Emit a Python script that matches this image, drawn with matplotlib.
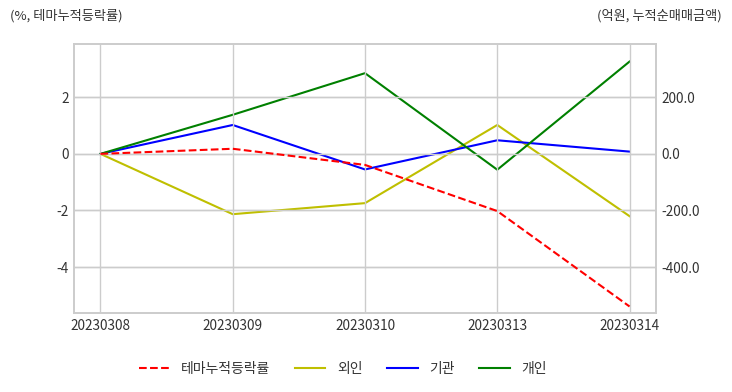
import matplotlib
matplotlib.use("Agg")
import matplotlib.pyplot as plt

plt.rcParams['font.family'] = ['Noto Sans CJK KR', 'DejaVu Sans']

dates = ["20230308", "20230309", "20230310", "20230313", "20230314"]
theme_ret = [0.0, 0.18, -0.39, -2.02, -5.39]
foreign = [0.0, -213, -174, 102, -220]
institution = [0.0, 102, -55, 48, 8]
individual = [0.0, 138, 285, -56, 326]

fig = plt.figure(figsize=(7.32, 3.92), dpi=100)
ax = fig.add_axes([74/732, 1-313/392, (656-74)/732, (313-44)/392])
ax2 = ax.twinx()

x = list(range(len(dates)))
l1, = ax.plot(x, theme_ret, color='r', linestyle='--', linewidth=1.5, label='테마누적등락률', zorder=3)
l2, = ax2.plot(x, foreign, color='y', linewidth=1.5, label='외인')
l3, = ax2.plot(x, institution, color='b', linewidth=1.5, label='기관')
l4, = ax2.plot(x, individual, color='g', linewidth=1.5, label='개인')

ax.set_zorder(ax2.get_zorder() + 1)
ax.patch.set_visible(False)

ax.set_xlim(-0.2, 4.2)
ax.set_ylim(-5.62, 3.88)
ax2.set_ylim(-562, 388)
ax.set_yticks([2, 0, -2, -4])
ax.set_yticklabels(['2', '0', '-2', '-4'])
ax2.set_yticks([200, 0, -200, -400])
ax2.set_yticklabels(['200.0', '0.0', '-200.0', '-400.0'])
ax.set_xticks(x)
ax.set_xticklabels(dates)

gc = '#cccccc'
for a in (ax, ax2):
    for s in a.spines.values():
        s.set_color(gc)
        s.set_linewidth(1.2)
    a.tick_params(length=0, labelsize=9.8, colors='#333333', pad=4)
ax.grid(True, color=gc, linewidth=1.0)
ax2.grid(True, axis='y', color=gc, linewidth=1.0)
ax.set_axisbelow(True)
ax2.set_axisbelow(True)
ax.tick_params(axis='x', pad=4)

fig.text(10/732, 1-16/392, '(%, 테마누적등락률)', fontsize=9.5, color='#333333', va='center', ha='left')
fig.text(722/732, 1-16/392, '(억원, 누적순매매금액)', fontsize=9.5, color='#333333', va='center', ha='right')

fig.legend(handles=[l1, l2, l3, l4], loc='center', bbox_to_anchor=(343/732, 1-369/392), ncol=4,
           frameon=False, fontsize=10, handlelength=2.2, handletextpad=0.85, columnspacing=1.75,
           labelcolor='#333333')

fig.savefig('out.png', dpi=100, facecolor='white')
